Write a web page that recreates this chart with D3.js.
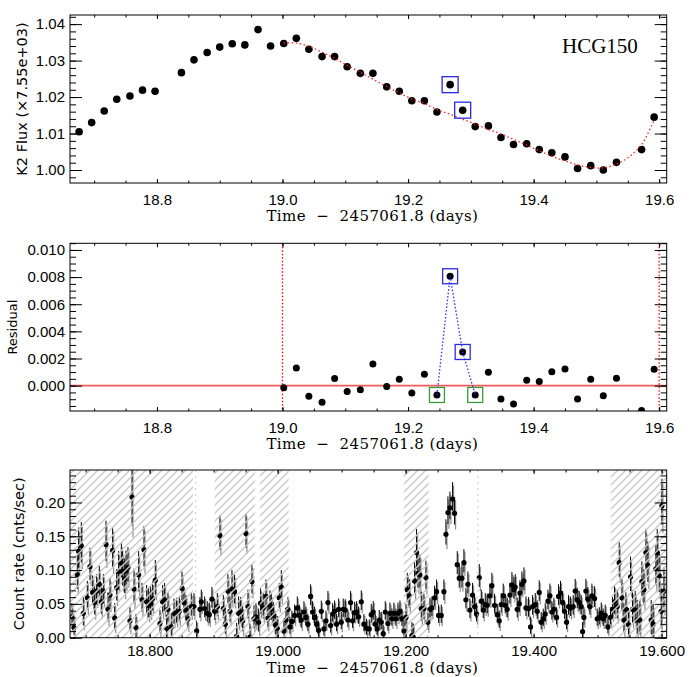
<!DOCTYPE html>
<html>
<head>
<meta charset="utf-8">
<title>HCG150 K2 and X-ray light curves</title>
<script src="https://d3js.org/d3.v7.min.js"></script>
<style>
  body { margin: 0; background: #fff; }
  svg { display: block; }
  .tick text { font-family: "Liberation Sans", Arial, sans-serif; font-size: 15px; fill: #000; }
  .tick line { stroke: #000; }
  .xtitle { font-family: "DejaVu Serif", serif; font-size: 15px; letter-spacing: 0.4px; white-space: pre; }
  .ytitle { font-family: "DejaVu Sans", sans-serif; font-size: 14px; }
</style>
</head>
<body>
<svg id="chart" width="699" height="677"></svg>
<script>
// K2 long-cadence photometry (days - 2457061.8, normalised flux)
var k2Time = [18.676, 18.696, 18.716, 18.736, 18.757, 18.777, 18.797, 18.839, 18.859, 18.880,
              18.900, 18.920, 18.940, 18.961, 18.981, 19.002, 19.022, 19.042, 19.063, 19.083,
              19.103, 19.124, 19.144, 19.166, 19.186, 19.206, 19.226, 19.246, 19.267, 19.287,
              19.307, 19.328, 19.348, 19.368, 19.389, 19.409, 19.429, 19.450, 19.470, 19.491,
              19.511, 19.532, 19.572, 19.592];
var k2Flux = [1.0105, 1.0130, 1.0162, 1.0194, 1.0203, 1.0219, 1.0216, 1.0267, 1.0302, 1.0322,
              1.0337, 1.0346, 1.0343, 1.0385, 1.0340, 1.0347, 1.0361, 1.0331, 1.0311, 1.0311,
              1.0283, 1.0265, 1.0265, 1.0228, 1.0216, 1.0190, 1.0190, 1.0159, 1.0234, 1.0164,
              1.0119, 1.0121, 1.0089, 1.0070, 1.0072, 1.0056, 1.0047, 1.0036, 1.0004, 1.0012,
              1.0000, 1.0021, 1.0056, 1.0145];

// smooth model (red dotted)
var modelTime = [19.002, 19.022, 19.042, 19.063, 19.083, 19.103, 19.124, 19.144, 19.166, 19.186,
                 19.206, 19.226, 19.246, 19.267, 19.287, 19.307, 19.328, 19.348, 19.368, 19.389,
                 19.409, 19.429, 19.450, 19.470, 19.491, 19.511, 19.532, 19.552, 19.572, 19.592];
var modelFlux = [1.0348, 1.0348, 1.0339, 1.0323, 1.0306, 1.0287, 1.0268, 1.0249, 1.0229, 1.0211,
                 1.0195, 1.0182, 1.0166, 1.0153, 1.0139, 1.0126, 1.0111, 1.0099, 1.0084, 1.0068,
                 1.0053, 1.0038, 1.0025, 1.0014, 1.0007, 1.0006, 1.0016, 1.0036, 1.0070, 1.0137];

// residuals (data - model)
var residTime = [19.002, 19.022, 19.042, 19.063, 19.083, 19.103, 19.124, 19.144, 19.166, 19.186,
                 19.206, 19.226, 19.246, 19.267, 19.287, 19.307, 19.328, 19.348, 19.368, 19.389,
                 19.409, 19.429, 19.450, 19.470, 19.491, 19.511, 19.532, 19.572, 19.592];
var residVal = [-0.00015, 0.0013, -0.00078, -0.00123, 0.00052, -0.00044, -0.0003, 0.0016, -0.00007, 0.00047,
                -0.00054, 0.00084, -0.00069, 0.00806, 0.00248, -0.00069, 0.00099, -0.00098, -0.00135, 0.0004,
                0.0003, 0.00103, 0.00123, -0.00098, 0.00047, -0.00074, 0.00054, -0.00184, 0.0012];

var flareTimes = [19.267, 19.287];   // blue boxes
var baseTimes = [19.246, 19.307];    // green boxes
var fitRange = [19.0, 19.6];

// X-ray light curve
var xrayTime = [
  18.6786, 18.6817, 18.6869, 18.6890, 18.6932, 18.6963, 18.7026, 18.7067, 18.7109, 18.7140,
  18.7171, 18.7213, 18.7244, 18.7276, 18.7317, 18.7349, 18.7380, 18.7421, 18.7453, 18.7484,
  18.7515, 18.7557, 18.7578, 18.7609, 18.7630, 18.7661, 18.7692, 18.7724, 18.7755, 18.7786,
  18.7828, 18.7880, 18.7911, 18.7953, 18.7984, 18.8015, 18.8046, 18.8088, 18.8161, 18.8203,
  18.8234, 18.8265, 18.8286, 18.8338, 18.8380, 18.8421, 18.8463, 18.8505, 18.8536, 18.8567,
  18.8598, 18.8650, 18.8692, 18.8734, 18.8786, 18.8807, 18.8859, 18.8900, 18.8932, 18.8973,
  18.9015, 18.9057, 18.9098,
  18.9151, 18.9182, 18.9223, 18.9255, 18.9286, 18.9327, 18.9359, 18.9390, 18.9421, 18.9453,
  18.9505, 18.9536, 18.9567, 18.9598, 18.9630, 18.9661, 18.9703, 18.9734, 18.9775, 18.9817,
  18.9848, 18.9880, 18.9900, 18.9932, 18.9963, 18.9994, 19.0025, 19.0057, 19.0098, 19.0130,
  19.0161, 19.0192, 19.0223, 19.0265, 19.0307, 19.0338, 19.0369, 19.0411, 19.0442, 19.0473,
  19.0515, 19.0546, 19.0578, 19.0609, 19.0640, 19.0682, 19.0723, 19.0755, 19.0786, 19.0828,
  19.0859, 19.0890, 19.0921, 19.0953, 19.0994, 19.1025, 19.1057, 19.1098, 19.1140, 19.1171,
  19.1203, 19.1234, 19.1265, 19.1307, 19.1348, 19.1390,
  19.1432, 19.1463, 19.1494, 19.1526, 19.1557, 19.1588, 19.1619, 19.1650, 19.1682, 19.1723,
  19.1755, 19.1786, 19.1817, 19.1848, 19.1880, 19.1911, 19.1942, 19.1974, 19.2005, 19.2026,
  19.2057, 19.2098, 19.2119, 19.2140, 19.2171, 19.2192, 19.2223, 19.2244, 19.2286, 19.2317,
  19.2348, 19.2380, 19.2411, 19.2453, 19.2484, 19.2515, 19.2557, 19.2598, 19.2630, 19.2661,
  19.2692, 19.2734, 19.2765, 19.2807, 19.2838, 19.2880, 19.2911, 19.2942, 19.2973, 19.3005,
  19.3046, 19.3078, 19.3109, 19.3151, 19.3182, 19.3213, 19.3244, 19.3276, 19.3317, 19.3348,
  19.3390, 19.3432, 19.3463, 19.3494, 19.3525, 19.3557, 19.3588, 19.3630, 19.3661, 19.3692,
  19.3713, 19.3744, 19.3775,
  19.3786, 19.3817, 19.3849, 19.3880, 19.3921, 19.3953, 19.3984, 19.4026, 19.4057, 19.4088,
  19.4119, 19.4151, 19.4182, 19.4224, 19.4255, 19.4286, 19.4317, 19.4359, 19.4390, 19.4421,
  19.4453, 19.4484, 19.4515, 19.4546, 19.4578, 19.4619, 19.4650, 19.4682, 19.4713, 19.4744,
  19.4765, 19.4786, 19.4817, 19.4848, 19.4880, 19.4911, 19.4953, 19.4994, 19.5026, 19.5057,
  19.5088, 19.5119, 19.5161, 19.5203, 19.5234, 19.5265, 19.5307, 19.5338, 19.5380, 19.5411,
  19.5442, 19.5484, 19.5515, 19.5546, 19.5588, 19.5619, 19.5661, 19.5692, 19.5724, 19.5755,
  19.5786, 19.5838, 19.5869, 19.5911, 19.5932, 19.5963, 19.5994, 19.6005, 19.6036];
var xrayRate = [
  0.031, 0.015, 0.093, 0.128, 0.136, 0.036, 0.059, 0.105, 0.067, 0.052,
  0.069, 0.079, 0.053, 0.069, 0.138, 0.042, 0.063, 0.129, 0.029, 0.074,
  0.098, 0.110, 0.098, 0.087, 0.099, 0.104, 0.025, 0.208, 0.072, 0.015,
  0.093, 0.056, 0.130, 0.053, 0.048, 0.051, 0.058, 0.085, 0.021, 0.053,
  0.056, 0.014, 0.042, 0.016, 0.036, 0.037, 0.039, 0.073, 0.052, 0.041,
  0.028, 0.046, 0.046, 0.010, 0.042, 0.053, 0.043, 0.036, 0.034, 0.057,
  0.039, 0.046, 0.151,
  0.043, 0.020, 0.069, 0.039, 0.072, 0.068, 0.002, 0.036, 0.038, 0.025,
  0.154, 0.046, 0.001, 0.083, 0.028, 0.031, 0.023, 0.051, 0.044, 0.061,
  0.029, 0.048, 0.042, 0.033, 0.019, 0.014, 0.059, 0.075, 0.010, 0.026,
  0.042, 0.016, 0.024, 0.033, 0.044, 0.033, 0.026, 0.038, 0.030, 0.020,
  0.061, 0.038, 0.030, 0.020, 0.011, 0.039, 0.013, 0.025, 0.052, 0.018,
  0.035, 0.039, 0.020, 0.042, 0.023, 0.042, 0.041, 0.026, 0.052, 0.025,
  0.037, 0.038, 0.031, 0.053, 0.020, 0.014,
  0.013, 0.034, 0.038, 0.020, 0.013, 0.026, 0.023, 0.006, 0.038, 0.021,
  0.036, 0.028, 0.036, 0.028, 0.036, 0.039, 0.028, 0.010, 0.030, 0.071,
  0.062, 0.003, 0.001, 0.084, 0.126, 0.095, 0.093, 0.043, 0.043, 0.089,
  0.023, 0.042, 0.044, 0.059, 0.068, 0.033, 0.033, 0.068, 0.153, 0.185,
  0.192, 0.205, 0.184, 0.108, 0.088, 0.088, 0.111, 0.056, 0.079, 0.041,
  0.063, 0.046, 0.035, 0.089, 0.054, 0.041, 0.049, 0.048, 0.062, 0.077,
  0.048, 0.034, 0.025, 0.049, 0.062, 0.048, 0.042, 0.063, 0.078, 0.071,
  0.075, 0.042, 0.050,
  0.066, 0.079, 0.084, 0.044, 0.043, 0.016, 0.046, 0.049, 0.039, 0.067,
  0.023, 0.028, 0.035, 0.054, 0.062, 0.038, 0.042, 0.030, 0.061, 0.066,
  0.052, 0.039, 0.023, 0.046, 0.044, 0.046, 0.069, 0.056, 0.052, 0.046,
  0.009, 0.030, 0.069, 0.057, 0.046, 0.062, 0.058, 0.028, 0.030, 0.036,
  0.028, 0.033, 0.016, 0.030, 0.042, 0.053, 0.046, 0.111, 0.059, 0.026,
  0.042, 0.019, 0.090, 0.042, 0.041, 0.026, 0.026, 0.083, 0.071, 0.126,
  0.107, 0.026, 0.020, 0.102, 0.126, 0.092, 0.039, 0.195, 0.069];
var xrayErr = [
  0.020, 0.015, 0.030, 0.035, 0.035, 0.025, 0.025, 0.028, 0.025, 0.025,
  0.025, 0.027, 0.025, 0.025, 0.035, 0.025, 0.025, 0.035, 0.022, 0.027,
  0.030, 0.030, 0.030, 0.030, 0.030, 0.030, 0.020, 0.060, 0.030, 0.020,
  0.035, 0.025, 0.035, 0.025, 0.025, 0.025, 0.025, 0.030, 0.020, 0.025,
  0.025, 0.020, 0.025, 0.020, 0.022, 0.022, 0.022, 0.025, 0.022, 0.022,
  0.020, 0.020, 0.020, 0.015, 0.018, 0.018, 0.018, 0.018, 0.018, 0.018,
  0.018, 0.020, 0.030,
  0.020, 0.020, 0.025, 0.022, 0.028, 0.025, 0.020, 0.025, 0.022, 0.022,
  0.030, 0.025, 0.020, 0.025, 0.020, 0.020, 0.020, 0.022, 0.022, 0.025,
  0.020, 0.022, 0.022, 0.020, 0.020, 0.018, 0.022, 0.025, 0.015, 0.018,
  0.018, 0.015, 0.016, 0.016, 0.017, 0.016, 0.016, 0.016, 0.016, 0.015,
  0.018, 0.016, 0.016, 0.015, 0.014, 0.016, 0.014, 0.015, 0.017, 0.015,
  0.016, 0.016, 0.015, 0.016, 0.015, 0.016, 0.016, 0.015, 0.017, 0.015,
  0.016, 0.016, 0.015, 0.017, 0.015, 0.014,
  0.014, 0.016, 0.016, 0.015, 0.014, 0.015, 0.015, 0.013, 0.016, 0.015,
  0.016, 0.015, 0.016, 0.015, 0.016, 0.016, 0.015, 0.020, 0.020, 0.025,
  0.025, 0.020, 0.020, 0.028, 0.035, 0.030, 0.030, 0.025, 0.022, 0.025,
  0.016, 0.017, 0.017, 0.018, 0.018, 0.016, 0.016, 0.018, 0.022, 0.024,
  0.024, 0.025, 0.024, 0.020, 0.020, 0.020, 0.020, 0.018, 0.019, 0.017,
  0.018, 0.017, 0.016, 0.020, 0.017, 0.017, 0.017, 0.017, 0.018, 0.019,
  0.017, 0.016, 0.015, 0.017, 0.018, 0.017, 0.017, 0.018, 0.019, 0.019,
  0.019, 0.017, 0.018,
  0.019, 0.019, 0.020, 0.017, 0.017, 0.015, 0.017, 0.017, 0.016, 0.018,
  0.015, 0.015, 0.016, 0.017, 0.018, 0.016, 0.017, 0.015, 0.018, 0.018,
  0.017, 0.016, 0.015, 0.017, 0.017, 0.017, 0.018, 0.018, 0.017, 0.017,
  0.014, 0.015, 0.018, 0.018, 0.017, 0.018, 0.018, 0.015, 0.015, 0.016,
  0.015, 0.016, 0.014, 0.015, 0.018, 0.025, 0.025, 0.030, 0.028, 0.025,
  0.025, 0.025, 0.030, 0.028, 0.028, 0.030, 0.030, 0.030, 0.030, 0.035,
  0.035, 0.030, 0.030, 0.035, 0.035, 0.035, 0.035, 0.040, 0.035];

// intervals shaded with hatching, and faint gap markers
var hatchStart = [18.6755, 18.9016, 18.9719, 19.197, 19.521];
var hatchEnd   = [18.8677, 18.965, 19.0172, 19.236, 19.608];
var gapMarks = [18.872, 19.313];

// tick labels
var timeTicks = [18.8, 19.0, 19.2, 19.4, 19.6];
var fluxTicks = [1.00, 1.01, 1.02, 1.03, 1.04];
var residTicks = [0.000, 0.002, 0.004, 0.006, 0.008, 0.010];
var rateTicks = [0.00, 0.05, 0.10, 0.15, 0.20];

var left = 70, right = 666.7;
var svg = d3.select("#chart");
var defs = svg.append("defs");

var pat = defs.append("pattern")
  .attr("id", "hatch")
  .attr("patternUnits", "userSpaceOnUse")
  .attr("width", 8).attr("height", 8);
pat.append("path")
  .attr("d", "M-2,2 L2,-2 M0,8 L8,0 M6,10 L10,6")
  .attr("stroke", "#c8c8c8")
  .attr("stroke-width", 1.4);

function addClip(id, y0, y1) {
  defs.append("clipPath").attr("id", id)
    .append("rect")
    .attr("x", left).attr("y", y0)
    .attr("width", right - left).attr("height", y1 - y0);
}

function steps(a, b, s) {
  var out = [];
  for (var i = 0; a + i * s <= b + s * 0.01; i++) out.push(+(a + i * s).toFixed(5));
  return out;
}

function strip(g) { g.select(".domain").remove(); }

// box with inward ticks on all four sides, like IDL
function box(x, y, o) {
  var y0 = y.range()[1], y1 = y.range()[0];
  var g = svg.append("g");
  g.append("g").attr("transform", "translate(0," + y1 + ")")
    .call(d3.axisBottom(x).tickValues(o.xMajor).tickFormat(o.xFmt).tickSize(-4).tickPadding(o.xPad)).call(strip);
  g.append("g").attr("transform", "translate(0," + y1 + ")")
    .call(d3.axisBottom(x).tickValues(o.xMinor).tickFormat("").tickSize(-2.5)).call(strip);
  g.append("g").attr("transform", "translate(0," + y0 + ")")
    .call(d3.axisTop(x).tickValues(o.xMajor).tickFormat("").tickSize(-4)).call(strip);
  g.append("g").attr("transform", "translate(0," + y0 + ")")
    .call(d3.axisTop(x).tickValues(o.xMinor).tickFormat("").tickSize(-2.5)).call(strip);
  g.append("g").attr("transform", "translate(" + left + ",0)")
    .call(d3.axisLeft(y).tickValues(o.yMajor).tickFormat(o.yFmt).tickSize(-12).tickPadding(5)).call(strip);
  g.append("g").attr("transform", "translate(" + left + ",0)")
    .call(d3.axisLeft(y).tickValues(o.yMinor).tickFormat("").tickSize(-6)).call(strip);
  g.append("g").attr("transform", "translate(" + right + ",0)")
    .call(d3.axisRight(y).tickValues(o.yMajor).tickFormat("").tickSize(-12)).call(strip);
  g.append("g").attr("transform", "translate(" + right + ",0)")
    .call(d3.axisRight(y).tickValues(o.yMinor).tickFormat("").tickSize(-6)).call(strip);
  g.append("rect")
    .attr("x", left).attr("y", y0)
    .attr("width", right - left).attr("height", y1 - y0)
    .attr("fill", "none").attr("stroke", "#000").attr("stroke-width", 1);
  g.selectAll(".tick line").attr("stroke", "#000");

  svg.append("text").attr("class", "xtitle")
    .attr("x", (left + right) / 2 + 4).attr("y", y1 + o.xTitleDy)
    .attr("text-anchor", "middle")
    .text("Time  \u2212  2457061.8 (days)");
  svg.append("text").attr("class", "ytitle")
    .attr("transform", "translate(" + o.yTitleX + "," + (y0 + y1) / 2 + ") rotate(-90)")
    .attr("text-anchor", "middle")
    .style("font-size", o.yTitleSize + "px")
    .text(o.yTitle);
}

function boxes(g, x, y, times, vals, list, color, size) {
  list.forEach(function(t) {
    var i = times.indexOf(t);
    g.append("rect")
      .attr("x", x(times[i]) - size / 2).attr("y", y(vals[i]) - size / 2)
      .attr("width", size).attr("height", size)
      .attr("fill", "none").attr("stroke", color).attr("stroke-width", 1.3);
  });
}

// ---------- panel 1: K2 flux ----------
var x1 = d3.scaleLinear().domain([18.6615, 19.612]).range([left, right]);
var y1 = d3.scaleLinear().domain([0.99644, 1.0425]).range([183, 15]);
addClip("c1", 15, 183);
var p1 = svg.append("g").attr("clip-path", "url(#c1)");

p1.selectAll("circle").data(k2Time).join("circle")
  .attr("cx", function(d) { return x1(d); })
  .attr("cy", function(d, i) { return y1(k2Flux[i]); })
  .attr("r", 3.8).attr("fill", "#000");

p1.append("path")
  .datum(modelTime)
  .attr("d", d3.line()
    .x(function(d) { return x1(d); })
    .y(function(d, i) { return y1(modelFlux[i]); })
    .curve(d3.curveCatmullRom))
  .attr("fill", "none").attr("stroke", "#ff2020")
  .attr("stroke-width", 1.3).attr("stroke-dasharray", "1.5,2.5");

boxes(p1, x1, y1, k2Time, k2Flux, flareTimes, "#2a2ae0", 16);

svg.append("text")
  .attr("x", 562).attr("y", 52.5)
  .style("font-family", "'Liberation Serif', 'Times New Roman', serif")
  .style("font-size", "21px")
  .text("HCG150");

box(x1, y1, {
  xMajor: timeTicks, xMinor: steps(18.70, 19.60, 0.05), xFmt: d3.format(".1f"), xPad: 11,
  yMajor: fluxTicks, yMinor: steps(0.998, 1.042, 0.002), yFmt: d3.format(".2f"),
  yTitle: "K2 Flux (\u00d77.55e+03)", yTitleX: 27, yTitleSize: 14.5, xTitleDy: 38
});

// ---------- panel 2: residuals ----------
var x2 = d3.scaleLinear().domain([18.6615, 19.612]).range([left, right]);
var y2 = d3.scaleLinear().domain([-0.00187, 0.01049]).range([411, 243.3]);
addClip("c2", 243.3, 411);
var p2 = svg.append("g").attr("clip-path", "url(#c2)");

p2.append("line")
  .attr("x1", left).attr("x2", right)
  .attr("y1", y2(0)).attr("y2", y2(0))
  .attr("stroke", "#f05a5a").attr("stroke-width", 1.8);

fitRange.forEach(function(t) {
  p2.append("line")
    .attr("x1", x2(t)).attr("x2", x2(t))
    .attr("y1", 243.3).attr("y2", 411)
    .attr("stroke", "#ff0000").attr("stroke-width", 1.3)
    .attr("stroke-dasharray", "1.5,2");
});

p2.selectAll("circle").data(residTime).join("circle")
  .attr("cx", function(d) { return x2(d); })
  .attr("cy", function(d, i) { return y2(residVal[i]); })
  .attr("r", 3.5).attr("fill", "#000");

var flarePath = baseTimes.slice(0, 1).concat(flareTimes, baseTimes.slice(1));
p2.append("path")
  .datum(flarePath)
  .attr("d", d3.line()
    .x(function(d) { return x2(d); })
    .y(function(d) { return y2(residVal[residTime.indexOf(d)]); }))
  .attr("fill", "none").attr("stroke", "#2b2bff")
  .attr("stroke-width", 1.3).attr("stroke-dasharray", "1.5,2");

boxes(p2, x2, y2, residTime, residVal, flareTimes, "#2a2ae0", 15);
boxes(p2, x2, y2, residTime, residVal, baseTimes, "#3a9a3a", 15);

box(x2, y2, {
  xMajor: timeTicks, xMinor: steps(18.70, 19.60, 0.05), xFmt: d3.format(".1f"), xPad: 11,
  yMajor: residTicks, yMinor: steps(-0.0015, 0.0105, 0.0005), yFmt: d3.format(".3f"),
  yTitle: "Residual", yTitleX: 17, yTitleSize: 13, xTitleDy: 38
});

// ---------- panel 3: X-ray count rate ----------
var x3 = d3.scaleLinear().domain([18.6755, 19.608]).range([left, right]);
var y3 = d3.scaleLinear().domain([0, 0.248]).range([637.7, 470]);
addClip("c3", 470, 637.7);
var p3 = svg.append("g").attr("clip-path", "url(#c3)");

var bars = p3.append("g");
bars.selectAll("line.g").data(xrayTime).join("line")
  .attr("class", "g")
  .attr("x1", function(d) { return x3(d) + 1; }).attr("x2", function(d) { return x3(d) + 1; })
  .attr("y1", function(d, i) { return y3(xrayRate[i] - xrayErr[i]); })
  .attr("y2", function(d, i) { return y3(xrayRate[i] + xrayErr[i] * 0.8); })
  .attr("stroke", "#8c8c8c").attr("stroke-width", 1.2);
bars.selectAll("line.k").data(xrayTime).join("line")
  .attr("class", "k")
  .attr("x1", function(d) { return x3(d); }).attr("x2", function(d) { return x3(d); })
  .attr("y1", function(d, i) { return y3(xrayRate[i] - xrayErr[i] * 0.7); })
  .attr("y2", function(d, i) { return y3(xrayRate[i] + xrayErr[i]); })
  .attr("stroke", "#000").attr("stroke-width", 1.0);

p3.selectAll("circle").data(xrayTime).join("circle")
  .attr("cx", function(d) { return x3(d); })
  .attr("cy", function(d, i) { return y3(xrayRate[i]); })
  .attr("r", 2.6).attr("fill", "#000");

p3.selectAll("rect.hatch").data(hatchStart).join("rect")
  .attr("class", "hatch")
  .attr("x", function(d) { return x3(d); })
  .attr("width", function(d, i) { return x3(hatchEnd[i]) - x3(d); })
  .attr("y", 470).attr("height", 167.7)
  .attr("fill", "url(#hatch)");

p3.selectAll("line.gap").data(gapMarks).join("line")
  .attr("class", "gap")
  .attr("x1", function(d) { return x3(d); }).attr("x2", function(d) { return x3(d); })
  .attr("y1", 470).attr("y2", 637.7)
  .attr("stroke", "#c8c8c8").attr("stroke-width", 1)
  .attr("stroke-dasharray", "2,4");

box(x3, y3, {
  xMajor: timeTicks, xMinor: steps(18.70, 19.60, 0.05), xFmt: d3.format(".3f"), xPad: 8,
  yMajor: rateTicks, yMinor: steps(0.0, 0.24, 0.01), yFmt: d3.format(".2f"),
  yTitle: "Count rate (cnts/sec)", yTitleX: 24, yTitleSize: 14.5, xTitleDy: 35.5
});
</script>
</body>
</html>
